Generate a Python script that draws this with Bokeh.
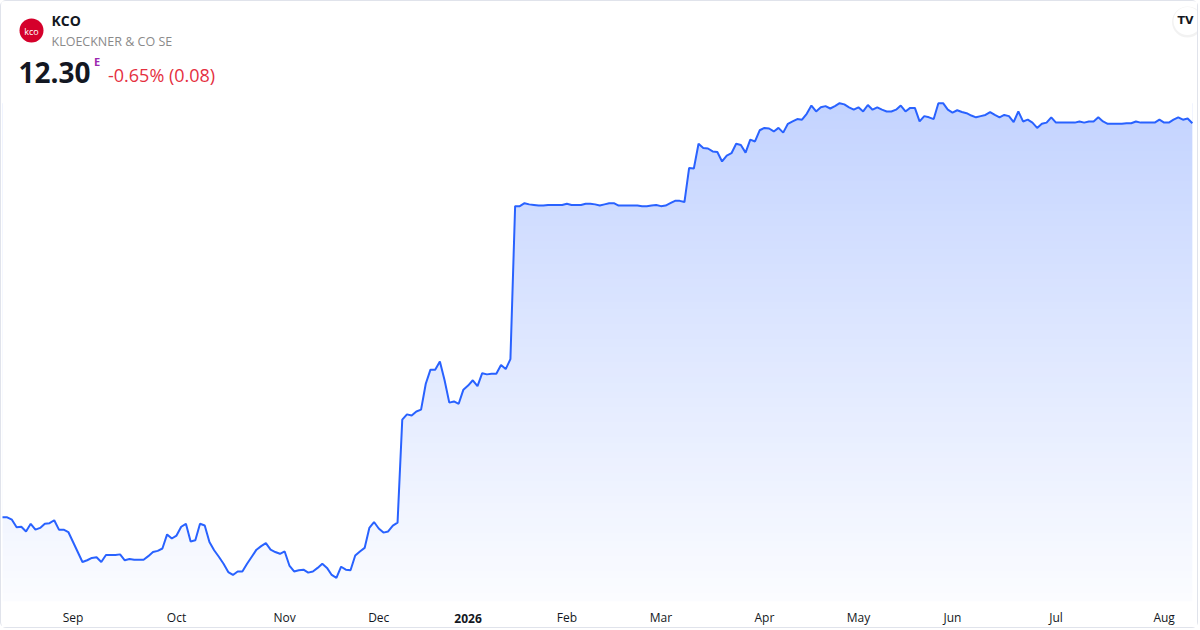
import numpy as np
import pandas as pd
from bokeh.plotting import figure
from bokeh.models import Label, FixedTicker, Range1d, LinearAxis
from bokeh.embed import file_html
from bokeh.resources import INLINE

# Xetra trading days shown on the chart
holidays = ["2025-12-24", "2025-12-25", "2025-12-26", "2025-12-31",
            "2026-01-01", "2026-04-03", "2026-04-06", "2026-05-01"]
dates = pd.bdate_range("2025-08-11", "2026-08-11", freq="C", holidays=holidays)

# daily close (EUR)
close = [
    5.60, 5.60, 5.56, 5.43, 5.44, 5.36, 5.49, 5.39, 5.42, 5.49,
    5.50, 5.55, 5.39, 5.39, 5.35, 5.18, 5.01, 4.84, 4.87, 4.91,
    4.92, 4.84, 4.96, 4.96, 4.96, 4.97, 4.87, 4.89, 4.88, 4.88,
    4.88, 4.94, 5.01, 5.03, 5.07, 5.31, 5.24, 5.29, 5.44, 5.49,
    5.19, 5.21, 5.49, 5.46, 5.18, 5.04, 4.93, 4.81, 4.67, 4.62,
    4.68, 4.68, 4.81, 4.93, 5.05, 5.11, 5.16, 5.05, 5.01, 4.98,
    5.02, 4.78, 4.68, 4.70, 4.71, 4.66, 4.68, 4.74, 4.81, 4.74,
    4.62, 4.57, 4.76, 4.71, 4.70, 4.95, 5.02, 5.08, 5.42, 5.52,
    5.41, 5.34, 5.36, 5.46, 5.51, 7.26, 7.35, 7.33, 7.40, 7.43,
    7.87, 8.11, 8.11, 8.25, 7.93, 7.55, 7.57, 7.53, 7.77, 7.84,
    7.93, 7.83, 8.05, 8.03, 8.04, 8.04, 8.19, 8.12, 8.29, 10.89,
    10.89, 10.94, 10.92, 10.91, 10.90, 10.90, 10.91, 10.91, 10.91, 10.91,
    10.93, 10.91, 10.91, 10.91, 10.93, 10.93, 10.92, 10.90, 10.92, 10.94,
    10.94, 10.90, 10.90, 10.90, 10.90, 10.90, 10.89, 10.89, 10.90, 10.91,
    10.89, 10.90, 10.94, 10.98, 10.98, 10.96, 11.54, 11.53, 11.95, 11.88,
    11.87, 11.82, 11.81, 11.65, 11.75, 11.79, 11.95, 11.93, 11.80, 12.02,
    11.99, 12.18, 12.22, 12.21, 12.16, 12.22, 12.14, 12.29, 12.33, 12.37,
    12.36, 12.46, 12.60, 12.50, 12.57, 12.59, 12.55, 12.59, 12.64, 12.62,
    12.57, 12.53, 12.57, 12.50, 12.61, 12.53, 12.57, 12.53, 12.50, 12.50,
    12.53, 12.60, 12.50, 12.56, 12.56, 12.33, 12.42, 12.40, 12.37, 12.64,
    12.64, 12.53, 12.48, 12.52, 12.49, 12.47, 12.43, 12.40, 12.42, 12.44,
    12.49, 12.44, 12.40, 12.44, 12.42, 12.32, 12.50, 12.33, 12.36, 12.31,
    12.22, 12.29, 12.31, 12.40, 12.31, 12.31, 12.31, 12.31, 12.31, 12.33,
    12.31, 12.33, 12.33, 12.40, 12.33, 12.29, 12.29, 12.29, 12.29, 12.30,
    12.30, 12.33, 12.31, 12.31, 12.31, 12.31, 12.36, 12.31, 12.31, 12.36,
    12.40, 12.36, 12.38, 12.30,
]

tick_labels = ["Sep", "Oct", "Nov", "Dec", "2026", "Feb",
               "Mar", "Apr", "May", "Jun", "Jul", "Aug"]

symbol = "KCO"
company = "KLOECKNER & CO SE"
last_price = "12.30"
change_text = "-0.65% (0.08)"

n = min(len(dates), len(close))
idx = np.arange(n)
close = np.array(close[:n])

# first trading day of each month after the start
month_key = dates[:n].year * 12 + dates[:n].month
tick_pos = [int(i) for i in range(1, n) if month_key[i] != month_key[i - 1]]

W, H = 1198, 628
FRAME_H = 600
x0, x1 = -0.213, 254.52
y0, y1 = 4.169, 14.369

FONT = "Open Sans"
BLUE = "#2962ff"
INK = "#131722"


def dx(px):
    return x0 + px * (x1 - x0) / W


def dy(py):
    return y1 - py * (y1 - y0) / FRAME_H


p = figure(width=W, height=H, x_range=Range1d(x0, x1), y_range=Range1d(y0, y1),
           output_backend="svg", toolbar_location=None, y_axis_location=None,
           min_border_left=0, min_border_right=0, min_border_top=0,
           min_border_bottom=H - FRAME_H,
           styles={"border": "1px solid #e0e3eb", "border-radius": "6px"})
p.grid.visible = False
p.outline_line_color = None
p.background_fill_color = "white"
p.border_fill_color = "white"

# gradient under the line: image behind, white mask above the line
rows = 300
top = close.max()
alpha = np.linspace(0.02, 0.28, rows)
img = np.zeros((rows, 1), dtype=np.uint32)
view = img.view(dtype=np.uint8).reshape((rows, 1, 4))
view[:, 0, 0] = 41
view[:, 0, 1] = 98
view[:, 0, 2] = 255
view[:, 0, 3] = (alpha * 255).astype(np.uint8)
p.image_rgba(image=[img], x=0, y=y0, dw=n - 1, dh=top - y0)
p.varea(x=idx, y1=close, y2=y1, fill_color="white")
p.line(idx, close, line_color=BLUE, line_width=2)


def style_axis(ax, standoff, bold):
    ax.axis_line_color = None
    ax.major_tick_line_color = None
    ax.minor_tick_line_color = None
    ax.major_tick_out = 0
    ax.major_tick_in = 0
    ax.major_label_standoff = standoff
    ax.major_label_text_font = FONT
    ax.major_label_text_font_size = "12px"
    ax.major_label_text_color = INK
    if bold:
        ax.major_label_text_font_style = "bold"


# year tick in bold on its own axis, month ticks on a second one at the same height
year_ticks = [pos for pos, lab in zip(tick_pos, tick_labels) if lab == "2026"]
ax = p.xaxis[0]
ax.ticker = FixedTicker(ticks=year_ticks, minor_ticks=[])
ax.major_label_overrides = {pos: "2026" for pos in year_ticks}
style_axis(ax, 12, True)

month_ticks = [pos for pos, lab in zip(tick_pos, tick_labels) if lab != "2026"]
ax2 = LinearAxis(ticker=FixedTicker(ticks=month_ticks, minor_ticks=[]))
ax2.major_label_overrides = {pos: lab for pos, lab in zip(tick_pos, tick_labels)
                             if lab != "2026"}
style_axis(ax2, -17, False)
p.add_layout(ax2, "below")

# header
p.scatter([dx(30)], [dy(29)], size=24, marker="circle",
          fill_color="#d5002b", line_color=None)
p.add_layout(Label(x=dx(30), y=dy(29.5), text="kco", text_font=FONT,
                   text_font_size="9px", text_color="white",
                   text_align="center", text_baseline="middle"))
p.add_layout(Label(x=dx(50), y=dy(19), text=symbol, text_font=FONT,
                   text_font_size="14px", text_font_style="bold",
                   text_color=INK, text_baseline="middle"))
p.add_layout(Label(x=dx(50), y=dy(39.5), text=company, text_font=FONT,
                   text_font_size="12.5px", text_color="#8a8a8a",
                   text_baseline="middle"))
p.add_layout(Label(x=dx(17), y=dy(71), text=last_price, text_font=FONT,
                   text_font_size="28px", text_font_style="bold",
                   text_color=INK, text_baseline="middle"))
p.add_layout(Label(x=dx(92.5), y=dy(60), text="E", text_font=FONT,
                   text_font_size="11px", text_font_style="bold",
                   text_color="#9c27b0", text_baseline="middle"))
p.add_layout(Label(x=dx(106.5), y=dy(73), text=change_text, text_font=FONT,
                   text_font_size="18px", text_color="#e5303f",
                   text_baseline="middle"))

# TradingView badge, top right
p.scatter([dx(1186)], [dy(20.5)], size=31, marker="circle",
          fill_color="black", fill_alpha=0.05, line_color=None)
p.scatter([dx(1186)], [dy(19.5)], size=28, marker="circle",
          fill_color="white", line_color=None)
p.add_layout(Label(x=dx(1184), y=dy(19), text="TV", text_font="DejaVu Sans",
                   text_font_size="11px", text_font_style="bold",
                   text_color=INK, text_align="center",
                   text_baseline="middle"))

open("out.html", "w").write(file_html(p, INLINE))
